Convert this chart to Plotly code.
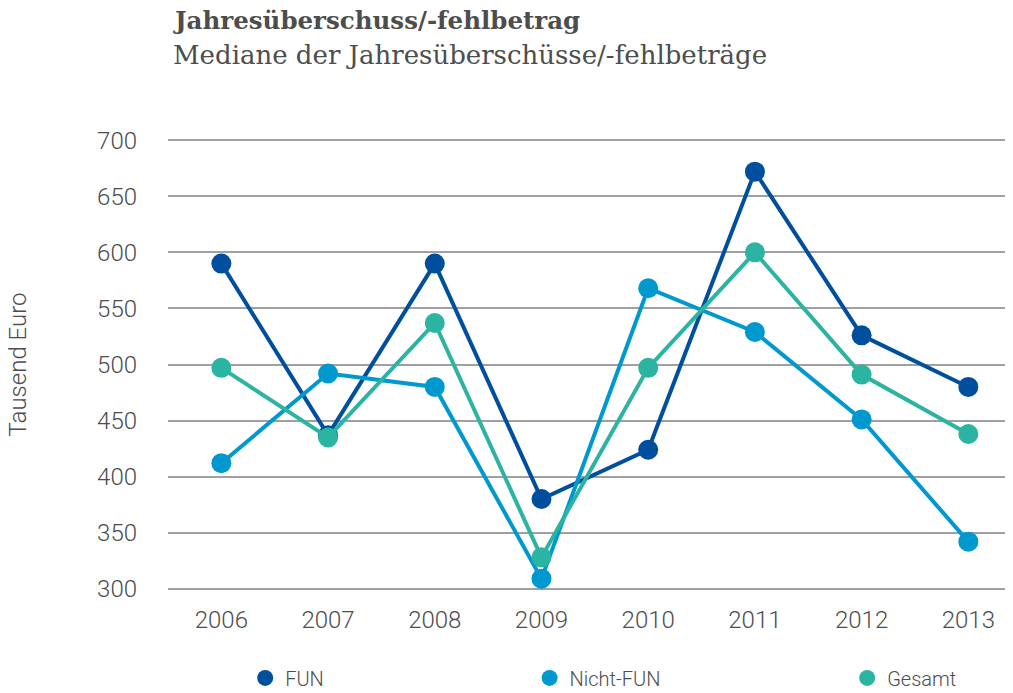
import plotly.graph_objects as go

# Data
years = ["2006", "2007", "2008", "2009", "2010", "2011", "2012", "2013"]
fun = [590, 437, 590, 380, 424, 672, 526, 480]
nicht_fun = [412, 492, 480, 309, 568, 529, 451, 342]
gesamt = [497, 435, 537, 328, 497, 600, 491, 438]

series = [
    ("FUN", fun, "#004f9e", "legend", 0.236),
    ("Nicht-FUN", nicht_fun, "#0099cf", "legend2", 0.519),
    ("Gesamt", gesamt, "#2bb4a1", "legend3", 0.835),
]

text_color = "#4d4d4d"
tick_font = dict(family="Roboto", size=24, color=text_color, weight=300)

fig = go.Figure()

for name, vals, color, lg, _ in series:
    fig.add_trace(go.Scatter(
        x=years, y=vals, mode="lines+markers", name=name,
        line=dict(color=color, width=4),
        marker=dict(color=color, size=20),
        cliponaxis=False, showlegend=False,
    ))

# legend-only entries (marker without line), each in its own legend box
for name, vals, color, lg, _ in series:
    fig.add_trace(go.Scatter(
        x=[None], y=[None], mode="markers", name=name, legend=lg,
        marker=dict(color=color, size=17),
    ))

legend_style = {}
for name, vals, color, lg, xpos in series:
    legend_style[lg] = dict(
        xref="container", yref="container", x=xpos, y=0.022,
        xanchor="left", yanchor="middle", orientation="h",
        bgcolor="rgba(0,0,0,0)",
        font=dict(family="Roboto", size=20, color=text_color, weight=300),
        itemclick=False,
    )

fig.add_annotation(
    text="Tausend Euro", textangle=-90,
    xref="paper", yref="paper", x=-0.178, y=0.5,
    xanchor="center", yanchor="middle", showarrow=False,
    font=dict(family="Roboto", size=24, color=text_color, weight=300),
)

# title lines
fig.add_annotation(
    text="<b>Jahresüberschuss/-fehlbetrag</b>",
    xref="paper", yref="paper", x=0.003, y=1.26,
    xanchor="left", yanchor="middle", showarrow=False,
    font=dict(family="Roboto Slab, DejaVu Serif", size=24.5, color=text_color),
)
fig.add_annotation(
    text="Mediane der Jahresüberschüsse/-fehlbeträge",
    xref="paper", yref="paper", x=0.003, y=1.183,
    xanchor="left", yanchor="middle", showarrow=False,
    font=dict(family="Roboto Slab, DejaVu Serif", size=26, color=text_color),
)

fig.update_layout(
    width=1005, height=685,
    margin=dict(l=160, r=2, t=130, b=102),
    plot_bgcolor="white", paper_bgcolor="white",
    xaxis=dict(
        type="category", range=[-0.5, 7.4],
        showgrid=False, showline=False, zeroline=False,
        ticks="", ticklabelstandoff=12,
        tickfont=tick_font,
    ),
    yaxis=dict(
        range=[298, 702], tickvals=[300, 350, 400, 450, 500, 550, 600, 650, 700],
        showgrid=True, gridcolor="#a0a0a0", gridwidth=1.5,
        showline=False, zeroline=False,
        ticks="", ticklabelstandoff=30,
        tickfont=tick_font,
    ),
    **legend_style,
)

fig.write_html("out.html")
